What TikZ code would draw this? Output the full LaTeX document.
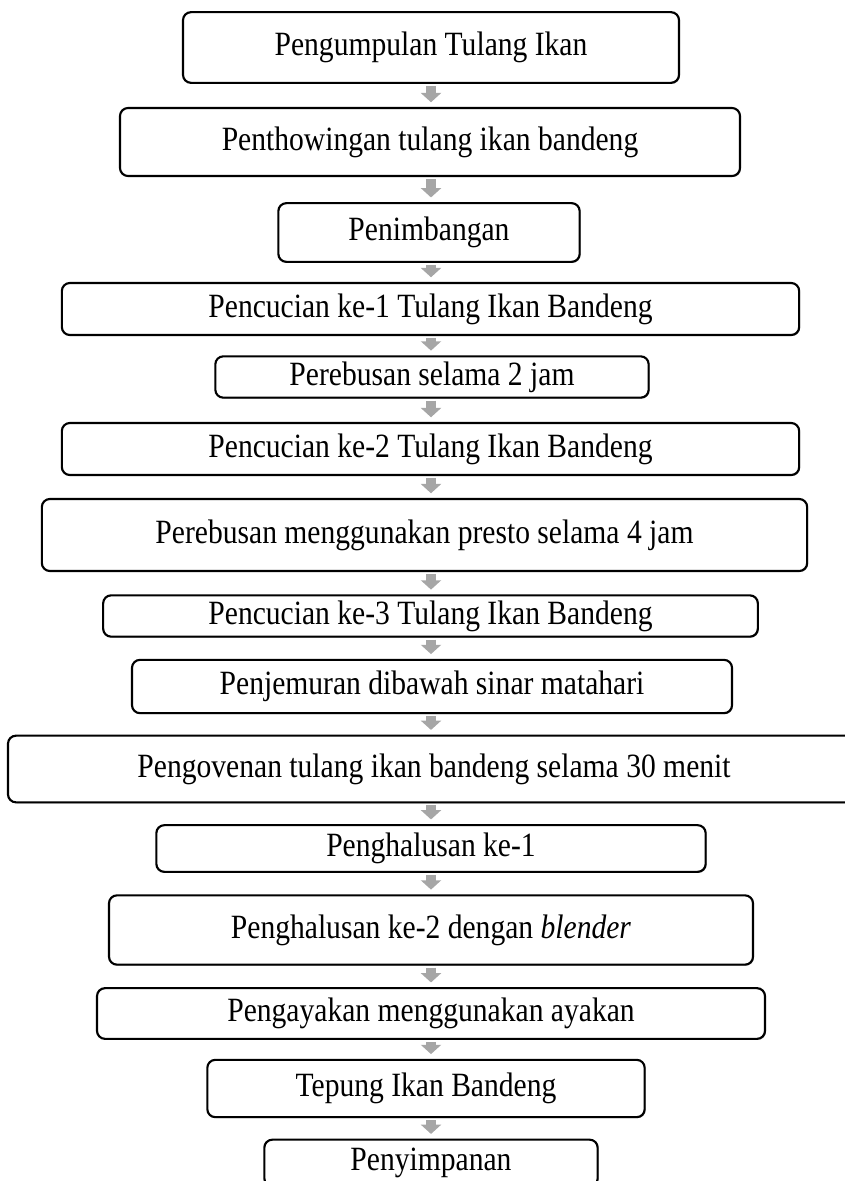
\documentclass[tikz,border=0pt]{standalone}
\usepackage{fontspec}
\setmainfont{Liberation Serif}[FakeStretch=0.87]
\usepackage{xcolor}
\usetikzlibrary{arrows.meta,shadows}

\definecolor{arrowgray}{RGB}{166,166,166}

\tikzset{
  stepbox/.style={draw=black, line width=1.6pt, rounded corners=6pt, fill=white,
    drop shadow={shadow xshift=0.7pt, shadow yshift=-0.7pt, fill=black!40, opacity=1},
    align=center, font=\fontsize{25.5}{29}\selectfont},
  flowarrow/.style={draw=arrowgray, line width=7.5pt,
    -{Triangle[width=15pt,length=7pt]}, shorten <=1.5pt, shorten >=3.5pt}
}

\begin{document}
\begin{tikzpicture}[x=0.75pt,y=-0.75pt]
    \tikzstyle{every node}+=[inner sep=0pt]
    \useasboundingbox (0,0) rectangle (844,1181);
    \coordinate (spine) at (431,0);
    \node [stepbox, minimum width=372pt, minimum height=53pt] (b1) at (431,47.5) {Pengumpulan Tulang Ikan};
    \node [stepbox, minimum width=465pt, minimum height=51pt] (b2) at (430,142) {Penthowingan tulang ikan bandeng};
    \node [stepbox, minimum width=226pt, minimum height=44pt] (b3) at (429,232.5) {Penimbangan};
    \node [stepbox, minimum width=553pt, minimum height=39pt] (b4) at (430.5,309) {Pencucian ke-1 Tulang Ikan Bandeng};
    \node [stepbox, minimum width=325pt, minimum height=31pt] (b5) at (432,377) {Perebusan selama 2 jam};
    \node [stepbox, minimum width=553pt, minimum height=39pt] (b6) at (430.5,449) {Pencucian ke-2 Tulang Ikan Bandeng};
    \node [stepbox, minimum width=574pt, minimum height=54pt] (b7) at (424.5,535) {Perebusan menggunakan presto selama 4 jam};
    \node [stepbox, minimum width=491pt, minimum height=31pt] (b8) at (430.5,616) {Pencucian ke-3 Tulang Ikan Bandeng};
    \node [stepbox, minimum width=450pt, minimum height=40pt] (b9) at (432,686.5) {Penjemuran dibawah sinar matahari};
    \node [stepbox, minimum width=639pt, minimum height=50pt] (b10) at (434,769) {Pengovenan tulang ikan bandeng selama 30 menit};
    \node [stepbox, minimum width=412pt, minimum height=35pt] (b11) at (431,848.5) {Penghalusan ke-1};
    \node [stepbox, minimum width=483pt, minimum height=52pt] (b12) at (431,930) {Penghalusan ke-2 dengan \textit{blender}};
    \node [stepbox, minimum width=501pt, minimum height=38pt] (b13) at (431,1013.5) {Pengayakan menggunakan ayakan};
    \node [stepbox, minimum width=328pt, minimum height=43pt] (b14) at (426,1088.5) {Tepung Ikan Bandeng};
    \node [stepbox, minimum width=250pt, minimum height=35pt] (b15) at (431,1163) {Penyimpanan};
    \foreach \a/\b in {b1/b2,b2/b3,b3/b4,b4/b5,b5/b6,b6/b7,b7/b8,b8/b9,b9/b10,b10/b11,b11/b12,b12/b13,b13/b14,b14/b15}
        \draw [flowarrow] (\a.south -| spine) -- (\b.north -| spine);
\end{tikzpicture}
\end{document}
